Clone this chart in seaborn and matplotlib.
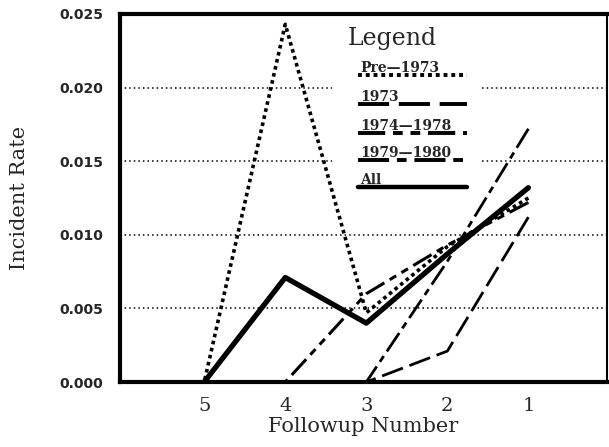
import numpy as np
import pandas as pd
import seaborn as sns
import matplotlib.pyplot as plt
from matplotlib.lines import Line2D
from matplotlib.patches import Rectangle

sns.set_style("white")

# values
followup = [5, 4, 3, 2, 1]
pre_1973 = [0.0, 0.0243, 0.0047, 0.0092, 0.0125]
y_1973 = [np.nan, np.nan, 0.0, 0.0021, 0.0112]
y_1974_1978 = [np.nan, 0.0, 0.0060, 0.0093, 0.0122]
y_1979_1980 = [np.nan, np.nan, 0.0, 0.0082, 0.0172]
all_years = [0.0, 0.0071, 0.0040, 0.0087, 0.0132]

labels = ["Pre\u20141973", "1973", "1974\u20141978", "1979\u20141980", "All"]
series = [pre_1973, y_1973, y_1974_1978, y_1979_1980, all_years]
styles = [(0, (1, 1)), (0, (8, 2.5)), (0, (7, 2, 2.5, 2, 2.5, 2)),
          (0, (8, 2, 2.5, 2)), "-"]
widths = [2.6, 2.0, 2.2, 2.0, 3.8]

fig = plt.figure(figsize=(6.09, 4.47), dpi=100)
ax = fig.add_axes([0.197, 0.1454, 0.7997, 0.8233])

for lab, vals, ls, lw in zip(labels, series, styles, widths):
    df = pd.DataFrame({"followup": followup, "rate": vals}).dropna()
    sns.lineplot(data=df, x="followup", y="rate", ax=ax, color="black",
                 linestyle=ls, lw=lw, legend=False, zorder=3)

ax.set_xlim(6.04, 0.03)
ax.set_ylim(0, 0.025)
ax.set_xticks(followup)
ax.set_xticklabels([str(f) for f in followup], family="DejaVu Serif", fontsize=14)
ax.set_yticks([0, 0.005, 0.010, 0.015, 0.020, 0.025])
ax.set_yticklabels(["0.000", "0.005", "0.010", "0.015", "0.020", "0.025"],
                   family="DejaVu Sans", fontweight="bold", fontsize=10)
for y in [0.005, 0.010, 0.015, 0.020]:
    ax.axhline(y, color="black", lw=1.1, linestyle=(0, (1, 2)), zorder=0)

for side, w in [("left", 3), ("bottom", 3), ("top", 3), ("right", 1.5)]:
    ax.spines[side].set_linewidth(w)
    ax.spines[side].set_color("black")
ax.tick_params(axis="both", direction="out", length=8, width=1.5, color="black")
ax.tick_params(axis="x", pad=3)
ax.tick_params(axis="y", pad=4)

ax.set_xlabel("Followup Number", family="DejaVu Serif", fontsize=15, labelpad=1)
ax.set_ylabel("Incident Rate", family="DejaVu Serif", fontsize=15, labelpad=22)

# hand-drawn legend: label text sitting on its line sample
ax.add_patch(Rectangle((0.435, 0.508), 0.304, 0.481, transform=ax.transAxes,
                       facecolor="white", edgecolor="none", zorder=1))
ax.text(0.468, 0.916, "Legend", transform=ax.transAxes, family="DejaVu Serif",
        fontsize=17, va="baseline", ha="left", zorder=4)
legend_y = [0.834, 0.755, 0.677, 0.603, 0.530]
legend_w = [2.8, 2.8, 2.8, 2.8, 3.2]
for lab, ls, lw, yy in zip(labels, styles, legend_w, legend_y):
    ax.add_line(Line2D([0.489, 0.713], [yy, yy], transform=ax.transAxes,
                       color="black", linestyle=ls, lw=lw, zorder=4))
    ax.text(0.493, yy + 0.009, lab, transform=ax.transAxes, family="DejaVu Serif",
            fontweight="bold", fontsize=10, va="baseline", ha="left", zorder=4)

fig.savefig("out.png", dpi=100)
